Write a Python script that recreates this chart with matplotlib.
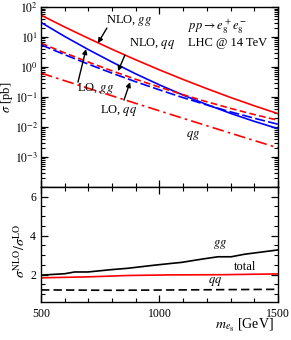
import numpy as np
import matplotlib
matplotlib.use("Agg")
import matplotlib.pyplot as plt
from matplotlib.ticker import MultipleLocator, LogLocator, NullFormatter, FuncFormatter

plt.rcParams['font.family'] = ['Liberation Serif', 'DejaVu Serif']
plt.rcParams['mathtext.fontset'] = 'stix'

# cross sections [pb]
mass = [500, 600, 700, 800, 900, 1000, 1100, 1200, 1300, 1400, 1500]
nlo_gg = [54.1, 21.7, 9.12, 3.92, 1.75, 0.807, 0.386, 0.191, 0.097, 0.0513, 0.028]
nlo_qq = [30.9, 10.5, 3.83, 1.47, 0.593, 0.255, 0.1166, 0.0562, 0.0286, 0.0155, 0.00885]
lo_gg = [6.26, 2.97, 1.47, 0.747, 0.392, 0.214, 0.120, 0.0697, 0.042, 0.0261, 0.0169]
lo_qq = [5.54, 2.59, 1.25, 0.626, 0.324, 0.174, 0.0955, 0.0546, 0.0321, 0.0197, 0.0124]
qg = [0.631, 0.351, 0.196, 0.1096, 0.0617, 0.0347, 0.0195, 0.01105, 0.00626, 0.00355, 0.00203]

# K-factors, bottom panel
k_mass = [500, 600, 642, 698, 797, 867, 909, 980, 1050, 1092, 1190, 1247, 1303, 1359, 1500]
k_gg = [1.98, 2.05, 2.14, 2.14, 2.26, 2.33, 2.39, 2.49, 2.58, 2.63, 2.82, 2.92, 2.92, 3.05, 3.27]
t_mass = [500, 700, 867, 1050, 1260, 1500]
k_total = [1.84, 1.89, 1.96, 1.99, 2.00, 2.04]
q_mass = [500, 800, 1100, 1500]
k_qq = [1.22, 1.20, 1.22, 1.25]

fig = plt.figure(figsize=(2.91, 3.40), dpi=100)
ax1 = fig.add_axes([0.141, 0.45, 0.814, 0.529])
ax2 = fig.add_axes([0.141, 0.1118, 0.814, 0.3382])

lw = 1.2
ax1.plot(mass, nlo_gg, color='red', lw=lw)
ax1.plot(mass, nlo_qq, color='blue', lw=lw)
ax1.plot(mass, lo_gg, color='red', lw=lw, ls=(0, (4, 2)))
ax1.plot(mass, lo_qq, color='blue', lw=lw, ls=(0, (6, 2)))
ax1.plot(mass, qg, color='red', lw=lw, ls=(0, (7, 2.5, 1.5, 2.5)))

ax1.set_yscale('log')
ax1.set_xlim(500, 1500)
ax1.set_ylim(1e-4, 1e2)
ax1.set_ylabel(r'$\sigma$ [pb]', fontsize=9)
ax1.yaxis.set_label_coords(-0.112, 0.5)
ax1.xaxis.set_major_locator(MultipleLocator(500))
ax1.xaxis.set_minor_locator(MultipleLocator(100))
ax1.xaxis.set_major_formatter(NullFormatter())
ax1.yaxis.set_major_locator(LogLocator(base=10, numticks=10))
ax1.yaxis.set_minor_locator(LogLocator(base=10, subs=np.arange(2, 10), numticks=10))
ax1.yaxis.set_minor_formatter(NullFormatter())
ax1.yaxis.set_major_formatter(FuncFormatter(
    lambda v, p: '' if v < 2e-4 else r'$10^{%d}$' % int(round(np.log10(v)))))

arr = dict(arrowstyle='-|>', color='k', lw=1.0, mutation_scale=7, shrinkA=0, shrinkB=0)
fs = 9
ax1.text(871, 36.9, 'NLO, $gg$', fontsize=fs, ha='center', va='center')
ax1.annotate('', xy=(740, 6.3), xytext=(778, 20), arrowprops=arr)
ax1.text(968, 6.3, 'NLO, $qq$', fontsize=fs, ha='center', va='center')
ax1.annotate('', xy=(825, 0.735), xytext=(854, 2.5), arrowprops=arr)
ax1.text(732, 0.2, 'LO, $gg$', fontsize=fs, ha='center', va='center')
ax1.annotate('', xy=(690, 4.0), xytext=(656, 0.316), arrowprops=arr)
ax1.text(829, 0.037, 'LO, $qq$', fontsize=fs, ha='center', va='center')
ax1.annotate('', xy=(876, 0.316), xytext=(850, 0.079), arrowprops=arr)
ax1.text(1141, 0.0054, '$qg$', fontsize=fs, ha='center', va='center')
ax1.text(1120, 21.5, r'$pp\rightarrow e_8^+e_8^-$', fontsize=fs, ha='left', va='center')
ax1.text(1120, 6.3, 'LHC @ 14 TeV', fontsize=fs, ha='left', va='center')

ax2.plot(k_mass, k_gg, color='black', lw=lw)
ax2.plot(t_mass, k_total, color='red', lw=lw)
ax2.plot(q_mass, k_qq, color='black', lw=lw, ls=(0, (5, 2.5)))
ax2.set_xlim(500, 1500)
ax2.set_ylim(0.6, 6.5)
ax2.xaxis.set_major_locator(MultipleLocator(500))
ax2.xaxis.set_minor_locator(MultipleLocator(100))
ax2.yaxis.set_major_locator(MultipleLocator(2))
ax2.yaxis.set_minor_locator(MultipleLocator(0.5))
ax2.set_ylabel(r'$\sigma^{\rm NLO}/\sigma^{\rm LO}$', fontsize=10)
ax2.yaxis.set_label_coords(-0.055, 0.45)
ax2.set_xlabel(r'$m_{e_8}$ [GeV]', fontsize=10)
ax2.xaxis.set_label_coords(0.98, -0.13)
ax2.xaxis.label.set_ha('right')
ax2.text(1255, 3.53, '$gg$', fontsize=fs, ha='center', va='center')
ax2.text(1361, 2.41, 'total', fontsize=fs, ha='center', va='center')
ax2.text(1234, 1.64, '$qq$', fontsize=fs, ha='center', va='center')

for ax in (ax1, ax2):
    ax.tick_params(which='both', direction='in', top=True, right=True, labelsize=8.5)
    ax.tick_params(which='major', length=5, width=0.9)
    ax.tick_params(which='minor', length=2.8, width=0.8)
    for s in ax.spines.values():
        s.set_linewidth(1.0)
ax1.tick_params(axis='y', pad=2)
ax2.tick_params(axis='x', pad=4)

fig.savefig('out.png', dpi=100)
